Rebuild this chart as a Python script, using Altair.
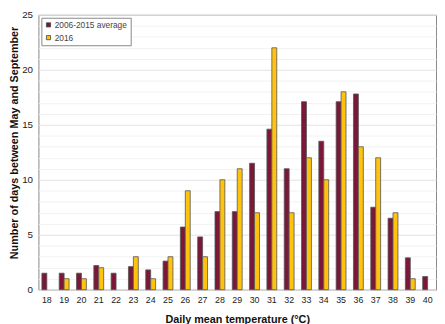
import altair as alt
import pandas as pd

temps = list(range(18, 41))
avg_2006_2015 = [1.5, 1.5, 1.5, 2.2, 1.5, 2.1, 1.8, 2.6, 5.7, 4.8, 7.1, 7.1, 11.5,
                 14.6, 11.0, 17.1, 13.5, 17.1, 17.8, 7.5, 6.5, 2.9, 1.2]
vals_2016 = [0, 1, 1, 2, 0, 3, 1, 3, 9, 3, 10, 11, 7, 22, 7, 12, 10, 18, 13, 12, 7, 1, 0]
series = ["2006-2015 average", "2016"]
colors = ["#7B1838", "#FFC20E"]

rows = []
for t, a, b in zip(temps, avg_2006_2015, vals_2016):
    rows.append({"temp": t, "series": series[0], "days": a})
    rows.append({"temp": t, "series": series[1], "days": b})
df = pd.DataFrame(rows)

font = "Liberation Sans"

chart = alt.Chart(df).transform_filter("datum.days > 0").mark_bar(
    stroke="#555555", strokeWidth=0.8
).encode(
    x=alt.X("temp:O", title="Daily mean temperature (°C)",
            scale=alt.Scale(paddingInner=0.43, paddingOuter=0.2),
            axis=alt.Axis(labelAngle=0, labelFontSize=9, labelColor="#222222",
                          ticks=False, domain=False, labelPadding=6,
                          titleFontSize=11, titleFontWeight="bold", titlePadding=9,
                          titleColor="#111111", labelFont=font, titleFont=font)),
    xOffset=alt.XOffset("series:N", sort=series,
                        scale=alt.Scale(paddingInner=0, paddingOuter=0)),
    y=alt.Y("days:Q", title="Number of days between May and September",
            scale=alt.Scale(domain=[0, 25], nice=False),
            axis=alt.Axis(values=list(range(0, 26)),
                          labelExpr="datum.value % 5 == 0 ? datum.label : ''",
                          ticks=False, domain=False, labelFontSize=10,
                          labelColor="#222222", labelPadding=6,
                          gridColor=alt.condition("datum.value % 5 == 0",
                                                  alt.value("#e2e2e2"),
                                                  alt.value("#f2f2f2")),
                          titleFontSize=11, titleFontWeight="bold",
                          titleColor="#111111", titleX=-19, titleY=130,
                          titleAlign="center", titleBaseline="bottom",
                          labelFont=font, titleFont=font)),
    color=alt.Color("series:N", sort=series,
                    scale=alt.Scale(domain=series, range=colors),
                    legend=alt.Legend(title=None, orient="none", legendX=3, legendY=3,
                                      fillColor="white", strokeColor="#888888",
                                      padding=3, symbolType="square", symbolSize=18,
                                      symbolStrokeColor="#444444", symbolStrokeWidth=0.8,
                                      labelFontSize=8.5, labelColor="#444444",
                                      labelFont=font, rowPadding=4, labelOffset=2)),
).properties(
    width=405, height=280,
    autosize=alt.AutoSizeParams(type="none"),
    padding={"left": 31, "top": 4, "right": 1, "bottom": 32},
).configure_view(
    stroke="#888888", strokeWidth=1
)

chart.save("out.html", embed_options={"renderer": "svg", "actions": False})
